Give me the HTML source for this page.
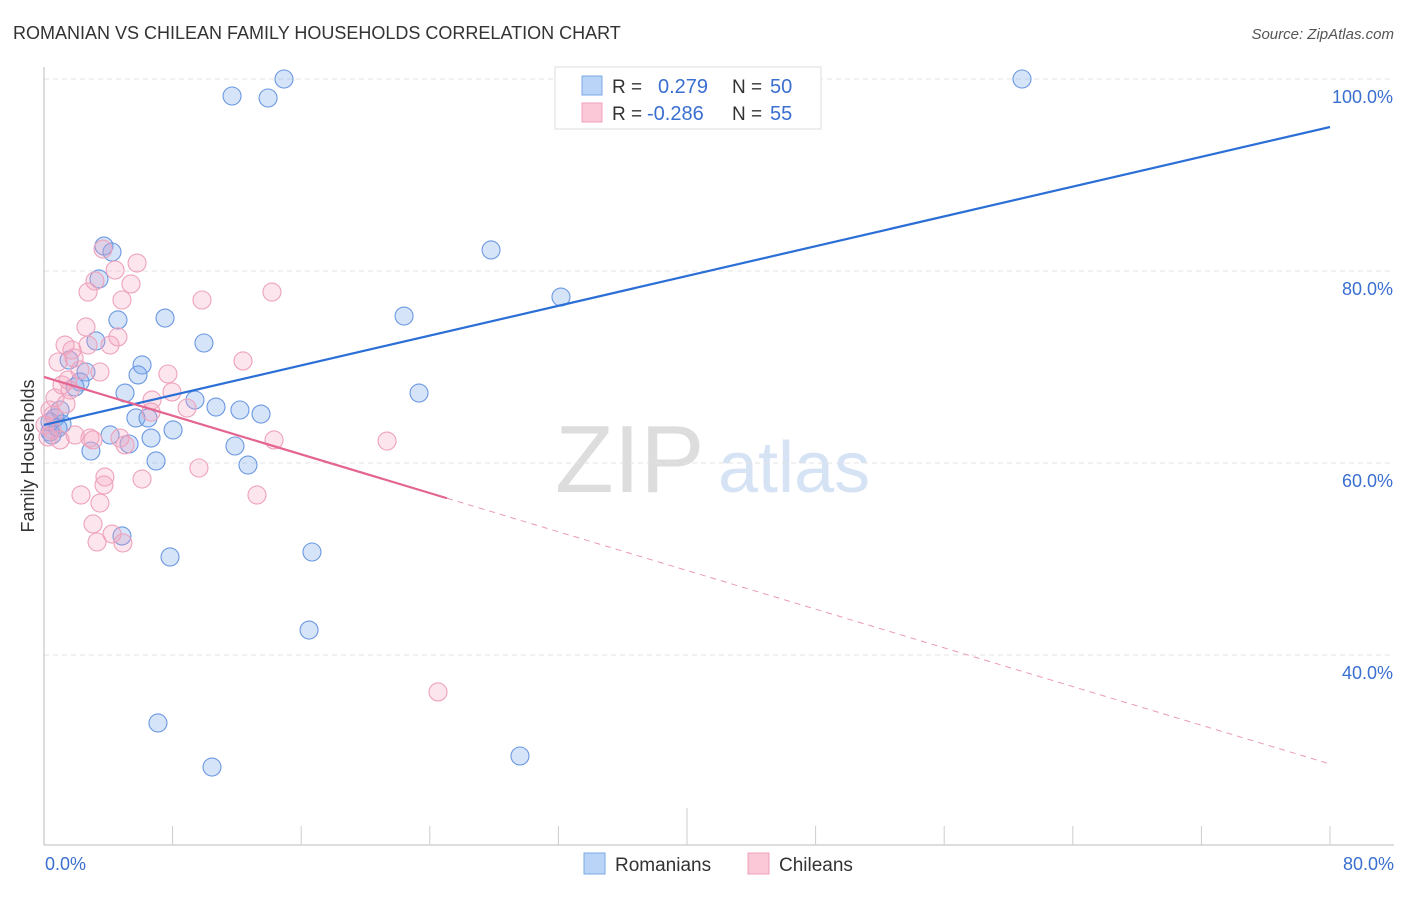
<!DOCTYPE html>
<html><head><meta charset="utf-8"><style>
body{margin:0;background:#fff;font-family:"Liberation Sans",sans-serif}
svg text{font-family:"Liberation Sans",sans-serif}
</style></head><body>
<svg id="chart" width="1406" height="892" xmlns="http://www.w3.org/2000/svg">
<text x="13" y="39" font-size="18" fill="#333">ROMANIAN VS CHILEAN FAMILY HOUSEHOLDS CORRELATION CHART</text>
<text x="1394" y="39" font-size="15" fill="#555" text-anchor="end" font-style="italic">Source: ZipAtlas.com</text>
<text x="555" y="492" font-size="96" fill="#ddd" font-family="Liberation Serif">ZIP</text>
<text x="718" y="492" font-size="72" fill="#d5e3f5">atlas</text>
<g id="grid"></g>
<g id="axes"></g>
<g id="marks"></g>
<text transform="translate(34,456) rotate(-90)" font-size="18" fill="#333" text-anchor="middle">Family Households</text>
<g>
<rect x="555" y="67" width="266" height="62" fill="#fff" stroke="#ddd"/>
<rect x="582" y="76" width="20" height="19" fill="#b9d4f7" stroke="#7aa7e6"/>
<rect x="582" y="103" width="20" height="19" fill="#fbc8d7" stroke="#efa0b8"/>
<text x="612" y="93" font-size="19" fill="#333">R =</text>
<text x="658" y="93" font-size="20" fill="#3a6fd0">0.279</text>
<text x="732" y="93" font-size="19" fill="#333">N =</text>
<text x="770" y="93" font-size="20" fill="#3a6fd0">50</text>
<text x="612" y="120" font-size="19" fill="#333">R =</text>
<text x="647" y="120" font-size="20" fill="#3a6fd0">-0.286</text>
<text x="732" y="120" font-size="19" fill="#333">N =</text>
<text x="770" y="120" font-size="20" fill="#3a6fd0">55</text>
</g>
<g>
<rect x="584" y="853" width="21" height="21" fill="#b9d4f7" stroke="#7aa7e6"/>
<text x="615" y="871" font-size="19" fill="#333">Romanians</text>
<rect x="748" y="853" width="21" height="21" fill="#fbc8d7" stroke="#efa0b8"/>
<text x="779" y="871" font-size="19" fill="#333">Chileans</text>
</g>
</svg>
<script>
const blueX=[14.93,60.84,11.70,13.94,3.73,4.23,27.81,3.42,32.16,4.60,7.53,22.40,9.95,3.23,6.10,1.56,5.85,2.61,2.24,1.93,5.04,23.33,9.39,10.70,12.19,13.50,5.72,6.47,0.68,1.12,8.03,4.11,6.66,0.37,0.50,11.88,5.29,2.92,6.97,12.69,4.85,7.84,16.67,16.49,7.09,10.45,29.61,1.00,0.37,0.87];
const blueY=[100,100,98.23,98.02,82.60,81.98,82.19,79.17,77.29,74.90,75.10,75.31,72.50,72.71,70.21,70.73,69.17,69.48,68.44,67.92,67.29,67.29,66.56,65.83,65.52,65.10,64.69,64.69,64.69,64.06,63.44,62.92,62.60,63.23,62.92,61.77,61.98,61.25,60.21,59.79,52.40,50.21,50.73,42.60,32.92,28.33,29.48,65.52,64.27,63.65];
const pinkX=[3.67,5.79,4.42,3.17,5.41,2.74,14.18,4.85,9.83,2.61,1.31,4.60,4.11,1.74,2.74,0.87,12.38,1.87,7.71,2.24,1.12,1.62,7.96,6.72,0.68,1.37,8.90,6.66,0.37,0.25,1.93,2.86,4.73,3.05,5.04,14.31,21.34,9.64,6.10,3.79,3.73,2.30,13.25,3.48,3.05,4.23,3.30,4.91,24.51,0.06,0.50,1.00,1.49,3.48,0.56];
const pinkY=[82.29,80.83,80.10,78.96,78.65,77.81,77.81,76.98,76.98,74.17,72.29,73.13,72.29,71.77,72.29,70.52,70.63,70.94,69.27,69.69,68.13,67.60,67.40,66.56,66.77,66.15,65.73,65.31,65.52,62.71,62.92,62.60,62.60,62.40,61.88,62.40,62.29,59.48,58.33,58.54,57.71,56.67,56.67,55.83,53.65,52.60,51.77,51.67,36.15,63.96,63.44,62.40,68.65,69.48,65.00];
const yTicks=[100,80,60,40];
const yTickLabels=["100.0%","80.0%","60.0%","40.0%"];
const xTickLabels=["0.0%","80.0%"];
const blueTrend=[63.96,95.0];
const pinkTrend=[68.96,28.65];
const pinkSolidEnd=25.07;

const NS="http://www.w3.org/2000/svg";
const sx=v=>44+v/80*1286;
const sy=v=>79+(100-v)/20*192;
function mk(tag,attrs,parent){const e=document.createElementNS(NS,tag);for(const k in attrs)e.setAttribute(k,attrs[k]);document.getElementById(parent).appendChild(e);return e;}

yTicks.forEach((t,i)=>{
  const g=mk('line',{x1:44,x2:1394,y1:sy(t),y2:sy(t),stroke:'#e3e3e3','stroke-dasharray':'5,4'},'grid');
  
  
  const l=mk('text',{x:1393,y:sy(t)+24,'font-size':18,fill:'#3a6fd0','text-anchor':'end'},'grid');
  l.textContent=yTickLabels[i];
  
  
});
const ax=mk('line',{x1:44,x2:44,y1:67,y2:845,stroke:'#bbb'},'axes');


const bx=mk('line',{x1:44,x2:1394,y1:845,y2:845,stroke:'#bbb'},'axes');


for(let i=1;i<=10;i++){
  const t=mk('line',{x1:sx(i*8),x2:sx(i*8),y1:(i==5?808:826),y2:845,stroke:'#ccc'},'axes');
  
  
}
[[0,'start',45],[80,'end',1394]].forEach((d,i)=>{
  const l=mk('text',{x:d[2],y:870,'font-size':18,fill:'#3a6fd0','text-anchor':d[1]},'axes');
  l.textContent=xTickLabels[i];
  
  
});
blueX.forEach((x,i)=>{
  const c=mk('circle',{cx:sx(x),cy:sy(blueY[i]),r:9,fill:'rgba(120,165,235,0.3)',stroke:'#6a98e2','stroke-width':1.1},'marks');
  
  
});
pinkX.forEach((x,i)=>{
  const c=mk('circle',{cx:sx(x),cy:sy(pinkY[i]),r:9,fill:'rgba(245,160,190,0.28)',stroke:'#eea2bb','stroke-width':1.1},'marks');
  
  
});
const bl=mk('line',{x1:sx(0),y1:sy(blueTrend[0]),x2:sx(80),y2:sy(blueTrend[1]),stroke:'#2b6fd6','stroke-width':2.2},'marks');


const pf=x=>pinkTrend[0]+(pinkTrend[1]-pinkTrend[0])*x/80;
const pl=mk('line',{x1:sx(0),y1:sy(pinkTrend[0]),x2:sx(pinkSolidEnd),y2:sy(pf(pinkSolidEnd)),stroke:'#e36590','stroke-width':2.2},'marks');


const pd=mk('line',{x1:sx(pinkSolidEnd),y1:sy(pf(pinkSolidEnd)),x2:sx(80),y2:sy(pinkTrend[1]),stroke:'#ec9ab5','stroke-width':1,'stroke-dasharray':'6,5'},'marks');


</script>
</body></html>
